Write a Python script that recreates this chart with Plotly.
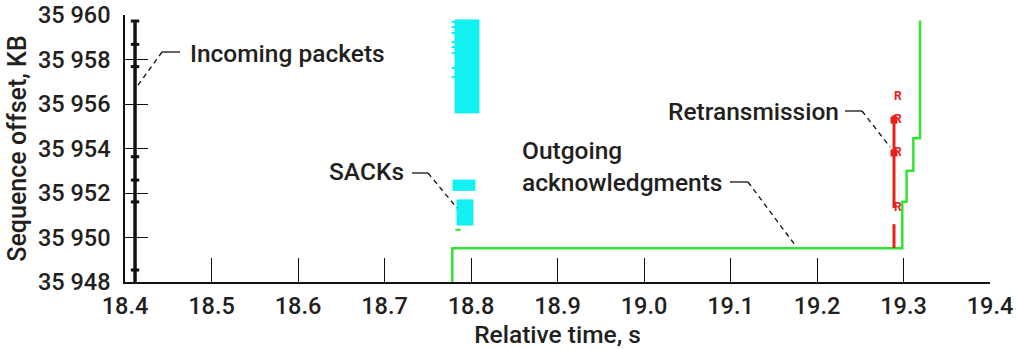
import plotly.graph_objects as go

# ---- data -------------------------------------------------------------
# Incoming packets (one trace of arrivals at a single instant)
pkt_time = 18.4116
pkt_span = [35948.0, 35959.78]
pkt_marks = [35959.73, 35958.68, 35957.68, 35953.63, 35952.58, 35951.6, 35948.54]

# SACK blocks: time range and sequence range of each block
sack_t0 = [18.7815, 18.7792, 18.7838]
sack_t1 = [18.8092, 18.8046, 18.8023]
sack_lo = [35955.6, 35952.12, 35950.56]
sack_hi = [35959.78, 35952.58, 35951.69]
sack_edge_time = 18.7800
sack_edge_marks = [35959.69, 35959.46, 35959.19, 35958.79, 35958.56, 35958.29, 35957.62, 35957.21]

# Outgoing cumulative acknowledgments (step line)
ack_time = [18.7784, 19.2986, 19.3036, 19.3114, 19.3191, 19.3191]
ack_seq = [35948.0, 35949.52, 35951.61, 35953.0, 35954.46, 35959.75]
ack_dup_time = 18.785
ack_dup_seq = 35950.35

# Retransmissions
retx_time = 19.289
retx_low = [35949.52, 35950.6]
retx_high = [35951.33, 35955.5]
retx_R = [35951.33, 35953.8, 35955.28, 35956.3]
retx_blobs = [35953.8, 35955.28]

# Axis ticks
x_ticks = [18.4, 18.5, 18.6, 18.7, 18.8, 18.9, 19.0, 19.1, 19.2, 19.3, 19.4]
y_ticks = [35948, 35950, 35952, 35954, 35956, 35958, 35960]
y_tick_text = ["35 948", "35 950", "35 952", "35 954", "35 956", "35 958", "35 960"]

BLACK = "#111111"
CYAN = "#12f0f0"
GREEN = "#2fe52f"
RED = "#e8201c"
TEXT = "#231f20"
FONT = "Roboto, Liberation Sans, Arial, sans-serif"
WEIGHT = 500

fig = go.Figure()

# SACK rectangles
sx, sy = [], []
for t0, t1, lo, hi in zip(sack_t0, sack_t1, sack_lo, sack_hi):
    sx += [t0, t1, t1, t0, t0, None]
    sy += [lo, lo, hi, hi, lo, None]
fig.add_trace(go.Scatter(x=sx, y=sy, mode="lines", fill="toself",
                         fillcolor=CYAN, line=dict(color=CYAN, width=1),
                         hoverinfo="skip"))
fig.add_trace(go.Scatter(x=[sack_edge_time] * len(sack_edge_marks), y=sack_edge_marks,
                         mode="markers",
                         marker=dict(symbol="line-ew", size=3, line=dict(color=CYAN, width=2))))

# Incoming packets
fig.add_trace(go.Scatter(x=[pkt_time, pkt_time], y=pkt_span, mode="lines",
                         line=dict(color=BLACK, width=3.5)))
fig.add_trace(go.Scatter(x=[pkt_time] * len(pkt_marks), y=pkt_marks, mode="markers",
                         marker=dict(symbol="line-ew", size=6, line=dict(color=BLACK, width=3))))

# Outgoing acknowledgments
fig.add_trace(go.Scatter(x=ack_time, y=ack_seq, mode="lines", line_shape="vh",
                         line=dict(color=GREEN, width=2.5)))
fig.add_trace(go.Scatter(x=[ack_dup_time], y=[ack_dup_seq], mode="markers",
                         marker=dict(symbol="line-ew", size=4, line=dict(color=GREEN, width=2))))

# Retransmissions
for seg in (retx_low, retx_high):
    fig.add_trace(go.Scatter(x=[retx_time, retx_time], y=seg, mode="lines",
                             line=dict(color=RED, width=3)))
fig.add_trace(go.Scatter(x=[retx_time] * len(retx_blobs), y=retx_blobs, mode="markers",
                         marker=dict(symbol="square", size=7, color=RED)))
fig.add_trace(go.Scatter(x=[retx_time] * len(retx_R), y=retx_R, mode="text",
                         text=["R"] * len(retx_R), textposition="middle right",
                         textfont=dict(family=FONT, size=12, color=RED, weight="bold")))

# ---- layout -----------------------------------------------------------
L, R, T, B = 125, 26, 15, 68
W, H = 1016, 350
PW, PH = W - L - R, H - T - B


def px(xp):
    return (xp - L) / PW


def py(yp):
    return (H - B - yp) / PH


annotations = [
    dict(text="Incoming packets", x=px(188), y=py(53), xanchor="left", yanchor="middle"),
    dict(text="SACKs", x=px(327), y=py(171), xanchor="left", yanchor="middle"),
    dict(text="Outgoing<br>acknowledgments", x=px(520), y=py(166), xanchor="left",
         yanchor="middle", align="left"),
    dict(text="Retransmission", x=px(841), y=py(111), xanchor="right", yanchor="middle"),
]
for a in annotations:
    a.update(xref="paper", yref="paper", showarrow=False,
             font=dict(family=FONT, size=24.5, color=TEXT, weight=WEIGHT))

leaders = [
    ((162, 52), (180, 52), (136, 88)),
    ((428, 173), (412, 173), (457, 208)),
    ((748, 182), (730, 182), (795, 245)),
    ((862, 111), (845, 111), (890, 147)),
]
shapes = []
for corner, solid_end, tip in leaders:
    shapes.append(dict(type="line", xref="paper", yref="paper",
                       x0=px(corner[0]), y0=py(corner[1]), x1=px(solid_end[0]), y1=py(solid_end[1]),
                       line=dict(color=BLACK, width=1.3)))
    shapes.append(dict(type="line", xref="paper", yref="paper",
                       x0=px(corner[0]), y0=py(corner[1]), x1=px(tip[0]), y1=py(tip[1]),
                       line=dict(color=BLACK, width=1.3, dash="5px,4px")))

fig.update_layout(
    width=W, height=H,
    margin=dict(l=L, r=R, t=T, b=B, autoexpand=False),
    paper_bgcolor="white", plot_bgcolor="white",
    showlegend=False,
    font=dict(family=FONT, size=24, color=TEXT, weight=WEIGHT),
    annotations=annotations,
    shapes=shapes,
    xaxis=dict(range=[18.4, 19.4], tickvals=x_ticks, tickformat=".1f",
               ticks="inside", ticklen=24, tickwidth=1.2, tickcolor=BLACK,
               showline=True, linecolor=BLACK, linewidth=1.5,
               showgrid=False, zeroline=False, automargin=False,
               ticklabelstandoff=2,
               tickfont=dict(family=FONT, size=23.5, color=TEXT, weight=WEIGHT),
               title=dict(text="Relative time, s", standoff=0,
                          font=dict(family=FONT, size=24.5, color=TEXT, weight=WEIGHT))),
    yaxis=dict(range=[35948, 35960], tickvals=y_ticks, ticktext=y_tick_text,
               ticks="inside", ticklen=23, tickwidth=1.2, tickcolor=BLACK,
               showline=True, linecolor=BLACK, linewidth=1.5,
               showgrid=False, zeroline=False, automargin=False,
               ticklabelstandoff=8,
               tickfont=dict(family=FONT, size=23.5, color=TEXT, weight=WEIGHT),
               title=dict(text="Sequence offset, KB", standoff=4,
                          font=dict(family=FONT, size=25, color=TEXT, weight=WEIGHT))),
)

fig.write_html("out.html")
